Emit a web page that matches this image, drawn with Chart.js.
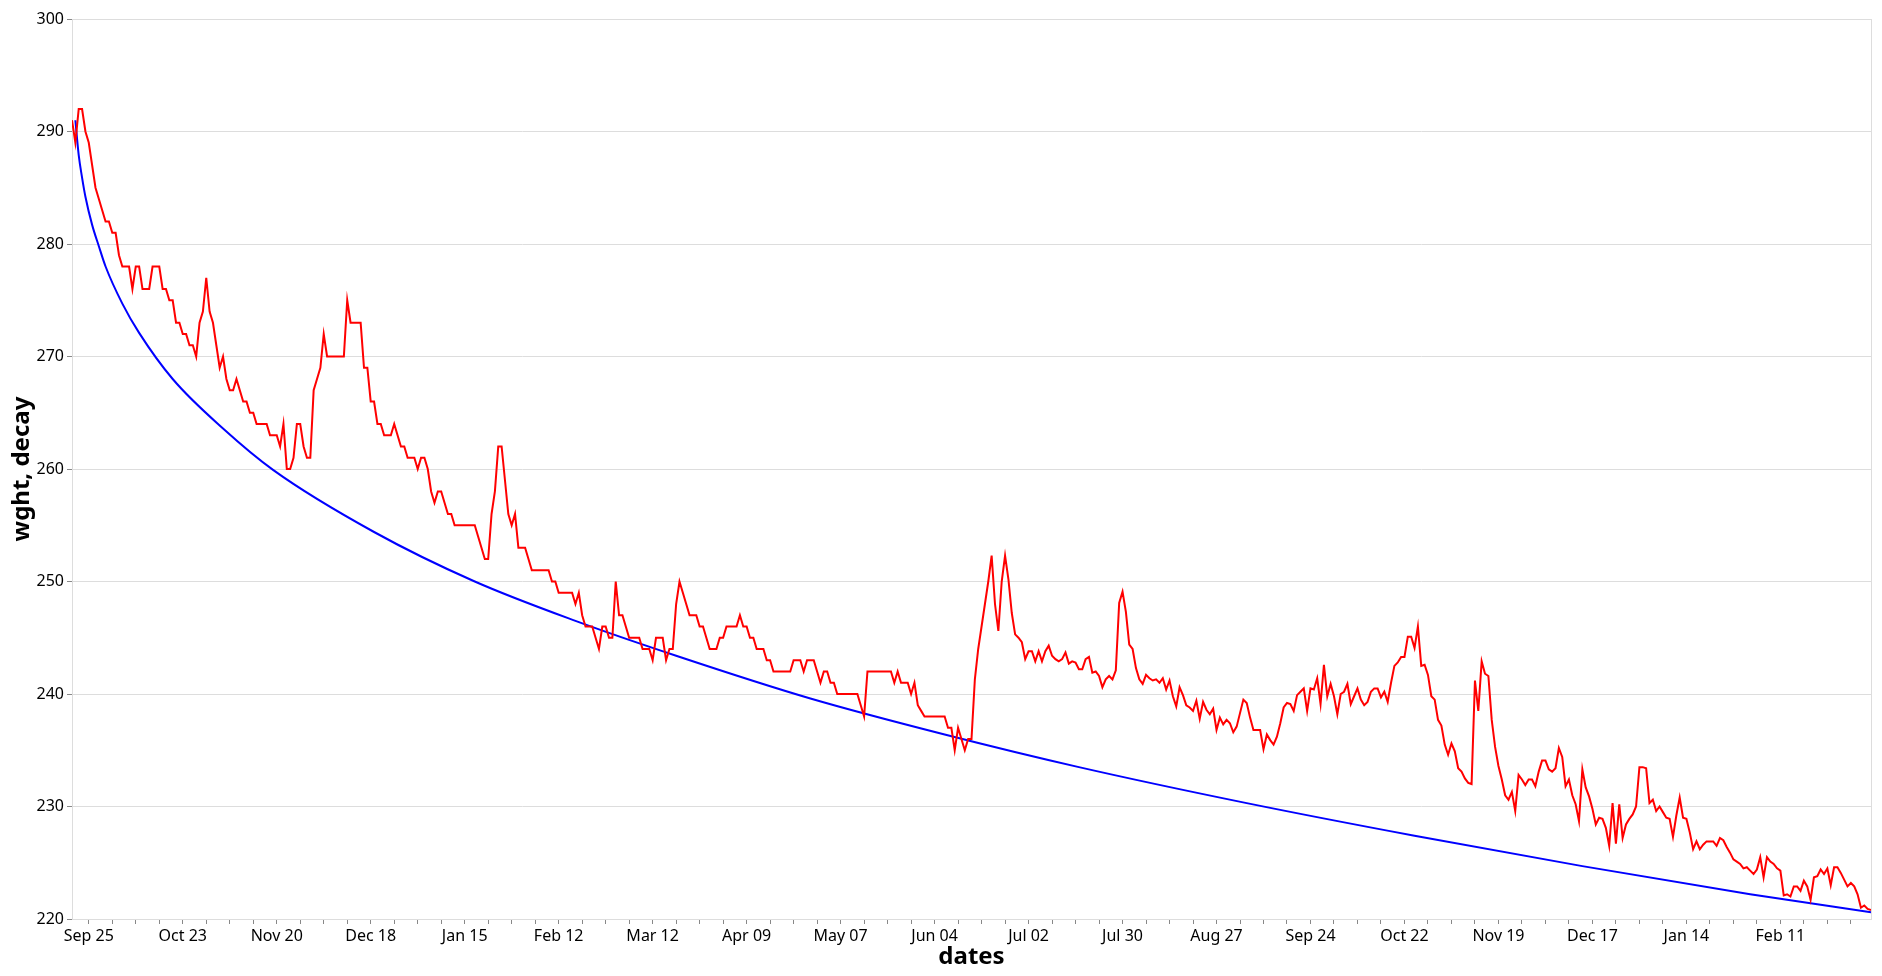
<!DOCTYPE html>
<html>
<head>
<meta charset="utf-8">
<title>wght, decay</title>
<script src="https://cdn.jsdelivr.net/npm/chart.js@4.4.1/dist/chart.umd.min.js"></script>
<style>
  html, body { margin: 0; padding: 0; background: #fff; }
  canvas { display: block; }
</style>
</head>
<body>
<canvas id="wghtchart" width="1882" height="976"></canvas>
<script>
// day 0 = Sep 20 (first weigh-in), one value per day
const wght = [
  291, 289, 292, 292, 290, 289, 287, 285, 284, 283,
  282, 282, 281, 281, 279, 278, 278, 278, 276, 278,
  278, 276, 276, 276, 278, 278, 278, 276, 276, 275,
  275, 273, 273, 272, 272, 271, 271, 270, 273, 274,
  277, 274, 273, 271, 269, 270, 268, 267, 267, 268,
  267, 266, 266, 265, 265, 264, 264, 264, 264, 263,
  263, 263, 262, 264, 260, 260, 261, 264, 264, 262,
  261, 261, 267, 268, 269, 272, 270, 270, 270, 270,
  270, 270, 275, 273, 273, 273, 273, 269, 269, 266,
  266, 264, 264, 263, 263, 263, 264, 263, 262, 262,
  261, 261, 261, 260, 261, 261, 260, 258, 257, 258,
  258, 257, 256, 256, 255, 255, 255, 255, 255, 255,
  255, 254, 253, 252, 252, 256, 258, 262, 262, 259,
  256, 255, 256, 253, 253, 253, 252, 251, 251, 251,
  251, 251, 251, 250, 250, 249, 249, 249, 249, 249,
  248, 249, 247, 246, 246, 246, 245, 244, 246, 246,
  245, 245, 250, 247, 247, 246, 245, 245, 245, 245,
  244, 244, 244, 243, 245, 245, 245, 243, 244, 244,
  248, 250, 249, 248, 247, 247, 247, 246, 246, 245,
  244, 244, 244, 245, 245, 246, 246, 246, 246, 247,
  246, 246, 245, 245, 244, 244, 244, 243, 243, 242,
  242, 242, 242, 242, 242, 243, 243, 243, 242, 243,
  243, 243, 242, 241, 242, 242, 241, 241, 240, 240,
  240, 240, 240, 240, 240, 239, 238, 242, 242, 242,
  242, 242, 242, 242, 242, 241, 242, 241, 241, 241,
  240, 241, 239, 238.5, 238, 238, 238, 238, 238, 238,
  238, 237, 237, 235, 237, 236, 235, 236, 236, 241.3,
  244, 246, 248, 250, 252.3, 248, 245.6, 250, 252.3, 250.2,
  247.2, 245.3, 245, 244.6, 243.1, 243.8, 243.8, 242.9, 243.8, 242.9,
  243.8, 244.3, 243.4, 243.1, 242.9, 243.1, 243.7, 242.7, 242.9, 242.8,
  242.2, 242.2, 243.1, 243.3, 241.9, 242, 241.6, 240.6, 241.3, 241.6,
  241.3, 242.1, 248.1, 249.1, 247.3, 244.4, 244, 242.3, 241.3, 240.9,
  241.7, 241.4, 241.2, 241.3, 241, 241.4, 240.4, 241.2, 239.8, 238.9,
  240.6, 239.9, 239, 238.8, 238.5, 239.4, 237.8, 239.3, 238.6, 238.2,
  238.7, 236.8, 237.9, 237.3, 237.7, 237.4, 236.6, 237.1, 238.3, 239.5,
  239.2, 237.9, 236.8, 236.8, 236.8, 235.1, 236.4, 235.9, 235.5, 236.2,
  237.4, 238.8, 239.2, 239.1, 238.5, 239.9, 240.2, 240.5, 238.5, 240.5,
  240.4, 241.4, 239.1, 242.6, 239.8, 240.9, 239.8, 238.2, 240, 240.2,
  240.9, 239.1, 239.8, 240.5, 239.5, 239, 239.3, 240.2, 240.5, 240.5,
  239.7, 240.2, 239.3, 241, 242.5, 242.8, 243.3, 243.3, 245.1, 245.1,
  244.1, 246, 242.5, 242.6, 241.7, 239.8, 239.5, 237.7, 237.2, 235.5,
  234.6, 235.6, 234.9, 233.4, 233.1, 232.5, 232.1, 232, 241.2, 238.5,
  242.9, 241.8, 241.6, 237.7, 235.3, 233.6, 232.4, 231, 230.6, 231.3,
  229.6, 232.8, 232.4, 231.9, 232.4, 232.4, 231.8, 233.1, 234.1, 234.1,
  233.3, 233.1, 233.4, 235.2, 234.4, 231.8, 232.4, 231, 230.2, 228.7,
  233.3, 231.7, 230.9, 229.8, 228.4, 229, 228.9, 228.1, 226.5, 230.3,
  226.7, 230.2, 227.2, 228.4, 228.9, 229.3, 230, 233.5, 233.5, 233.4,
  230.3, 230.6, 229.6, 230, 229.5, 229, 228.9, 227.3, 229.2, 230.8,
  229, 228.9, 227.7, 226.2, 226.9, 226.2, 226.6, 226.9, 226.9, 226.9,
  226.5, 227.2, 227, 226.4, 225.9, 225.3, 225.1, 224.9, 224.5, 224.6,
  224.3, 224, 224.4, 225.5, 223.7, 225.5, 225.1, 224.9, 224.5, 224.3,
  222.1, 222.2, 222, 222.9, 222.9, 222.5, 223.4, 222.9, 221.7, 223.7,
  223.8, 224.4, 224, 224.5, 223, 224.6, 224.6, 224.1, 223.5, 222.9,
  223.2, 222.9, 222.2, 221, 221.2, 220.9, 220.8
];

const decayDays = [1, 2, 3, 4, 6, 8, 10, 15, 20, 30, 45, 60, 90, 120, 150, 180, 220, 260, 300, 350, 400, 450, 500, 536];
const decay = [291, 287.9, 285.9, 284.2, 281.7, 279.8, 278, 274.7, 272.1, 268, 263.6, 259.9, 254.4, 250, 246.5, 243.4, 239.6, 236.4, 233.5, 230.3, 227.4, 224.7, 222.2, 220.6];

// x axis: a tick every week, a label every 4 weeks starting Sep 25 (day 5)
const firstTickDay = 5;
const tickLabels = ['Sep 25', 'Oct 23', 'Nov 20', 'Dec 18', 'Jan 15', 'Feb 12', 'Mar 12', 'Apr 09', 'May 07', 'Jun 04',
  'Jul 02', 'Jul 30', 'Aug 27', 'Sep 24', 'Oct 22', 'Nov 19', 'Dec 17', 'Jan 14', 'Feb 11'];

const lastDay = wght.length - 1;

Chart.defaults.font.family = '"Noto Sans", "Open Sans", sans-serif';
Chart.defaults.color = '#000';

// light frame round the plot like the vega view stroke
const frame = {
  id: 'frame',
  beforeDatasetsDraw(chart) {
    const a = chart.chartArea;
    const ctx = chart.ctx;
    ctx.save();
    ctx.strokeStyle = '#ddd';
    ctx.lineWidth = 1;
    ctx.strokeRect(a.left + 0.5, a.top + 0.5, a.right - a.left, a.bottom - a.top);
    ctx.restore();
  }
};

new Chart(
  document.getElementById('wghtchart'),
  {
    type: 'line',
    data: {
      datasets: [
        {
          label: 'wght',
          data: wght.map((v, i) => ({ x: i, y: v })),
          borderColor: '#ff0000',
          borderWidth: 2,
          pointRadius: 0,
          tension: 0
        },
        {
          label: 'decay',
          data: decayDays.map((d, i) => ({ x: d, y: decay[i] })),
          borderColor: '#0000ff',
          borderWidth: 2,
          pointRadius: 0,
          cubicInterpolationMode: 'monotone'
        }
      ]
    },
    options: {
      responsive: false,
      devicePixelRatio: 1,
      animation: false,
      layout: { padding: { left: 0, right: 11, top: 19, bottom: 0 } },
      plugins: {
        legend: { display: false },
        tooltip: { enabled: false }
      },
      scales: {
        x: {
          type: 'linear',
          min: 0,
          max: lastDay,
          afterBuildTicks: function (scale) {
            const t = [];
            for (let d = firstTickDay; d <= lastDay; d += 7) t.push({ value: d });
            scale.ticks = t;
          },
          afterFit: function (scale) { scale.height = 57; },
          ticks: {
            autoSkip: false,
            maxRotation: 0,
            padding: 3,
            font: { size: 16 },
            callback: function (value) {
              const k = (value - firstTickDay) / 28;
              return Number.isInteger(k) && tickLabels[k] ? tickLabels[k] : '';
            }
          },
          grid: { drawOnChartArea: false, tickLength: 5, tickColor: '#888' },
          border: { color: '#888' },
          title: {
            display: true,
            text: 'dates',
            font: { size: 24, weight: 'bold', lineHeight: 1 },
            padding: { top: 0, bottom: 7 }
          }
        },
        y: {
          min: 220,
          max: 300,
          afterFit: function (scale) { scale.width = 72; },
          ticks: { stepSize: 10, padding: 3, font: { size: 16 } },
          grid: { color: '#ddd', tickLength: 5, tickColor: '#888' },
          border: { color: '#888' },
          title: {
            display: true,
            text: 'wght, decay',
            font: { size: 24, weight: 'bold', lineHeight: 1 },
            padding: { top: 10, bottom: 0 }
          }
        }
      }
    },
    plugins: [frame]
  }
);
</script>
</body>
</html>
